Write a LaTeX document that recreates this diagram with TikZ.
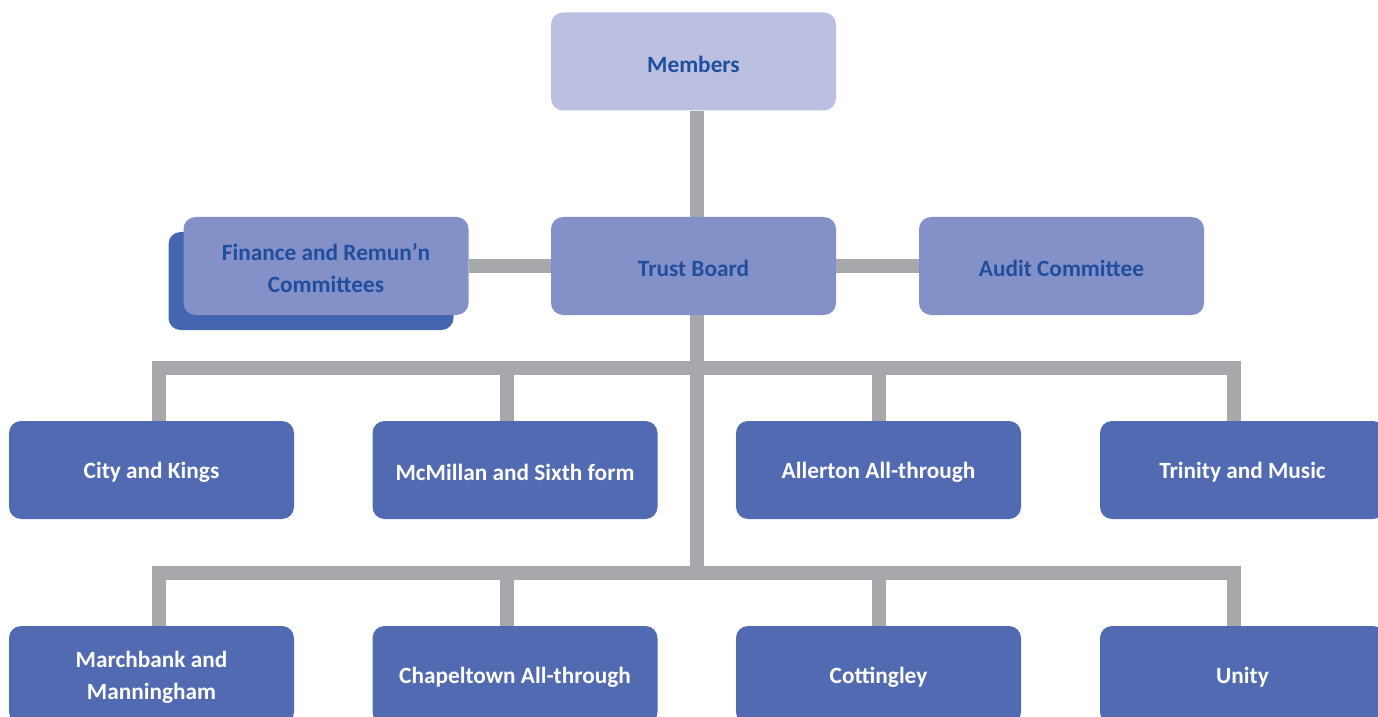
\documentclass[tikz,border=0pt]{standalone}
\usepackage{fontspec}
\setmainfont{Carlito}
\usetikzlibrary{backgrounds,calc}
\definecolor{memfill}{HTML}{BBBFE0}
\definecolor{boardfill}{HTML}{8490C8}
\definecolor{shadowfill}{HTML}{4466B0}
\definecolor{schoolfill}{HTML}{516AB1}
\definecolor{toptext}{HTML}{1F4E9E}
\definecolor{conngray}{HTML}{A7A8AB}
\begin{document}
\begin{tikzpicture}[x=0.5pt,y=-0.5pt,
  box/.style={rectangle, rounded corners=6pt, minimum width=142.5pt, minimum height=49pt,
    inner sep=0pt},
  labtext/.style={inner sep=0pt, align=center, yshift=-1.3pt,
    font=\fontsize{11.65}{16}\selectfont\bfseries},
  topbox/.style={box, fill=boardfill, label={[labtext, text=toptext]center:#1}},
  membox/.style={box, fill=memfill, label={[labtext, text=toptext]center:#1}},
  school/.style={box, fill=schoolfill, label={[labtext, text=white]center:#1}},
  conn/.style={draw=conngray, line width=7pt, line cap=butt, line join=miter}]
\useasboundingbox (0,0) rectangle (1378,717);
\clip (0,0) rectangle (1378,717);

\node[membox={Members}] (members) at (693.5,61.5) {};
\node[topbox={Trust Board}] (trust) at (693.5,266) {};
\node[box, fill=shadowfill] (finshadow) at (311,281) {};
\node[topbox={Finance and Remun’n\\Committees}] (finance) at (326,266) {};
\node[topbox={Audit Committee}] (audit) at (1061.5,266) {};

\node[school={City and Kings}] (r1a) at (151.5,470) {};
\node[school={McMillan and Sixth form}] (r1b) at (515,470) {};
\node[school={Allerton All-through}] (r1c) at (878.5,470) {};
\node[school={Trinity and Music}] (r1d) at (1242.5,470) {};

\node[school={Marchbank and\\Manningham}] (r2a) at (151.5,675) {};
\node[school={Chapeltown All-through}] (r2b) at (515,675) {};
\node[school={Cottingley}] (r2c) at (878.5,675) {};
\node[school={Unity}] (r2d) at (1242.5,675) {};

\coordinate (t1) at (697,368);
\coordinate (t2) at (697,573);

\begin{pgfonlayer}{background}
\draw[conn] (finance) -- (trust);
\draw[conn] (trust) -- (audit);
\draw[conn] (members.south -| t2) -- (t2);
\draw[conn] ($(r1a.north)+(7.5,0)$) |- (t1) -| ($(r1d.north)+(-8.5,0)$);
\draw[conn] ($(r1b.north)+(-8,0)$) |- (t1);
\draw[conn] (r1c.north) |- (t1);
\draw[conn] ($(r2a.north)+(7.5,0)$) |- (t2) -| ($(r2d.north)+(-8.5,0)$);
\draw[conn] ($(r2b.north)+(-8,0)$) |- (t2);
\draw[conn] (r2c.north) |- (t2);
\end{pgfonlayer}
\end{tikzpicture}
\end{document}
